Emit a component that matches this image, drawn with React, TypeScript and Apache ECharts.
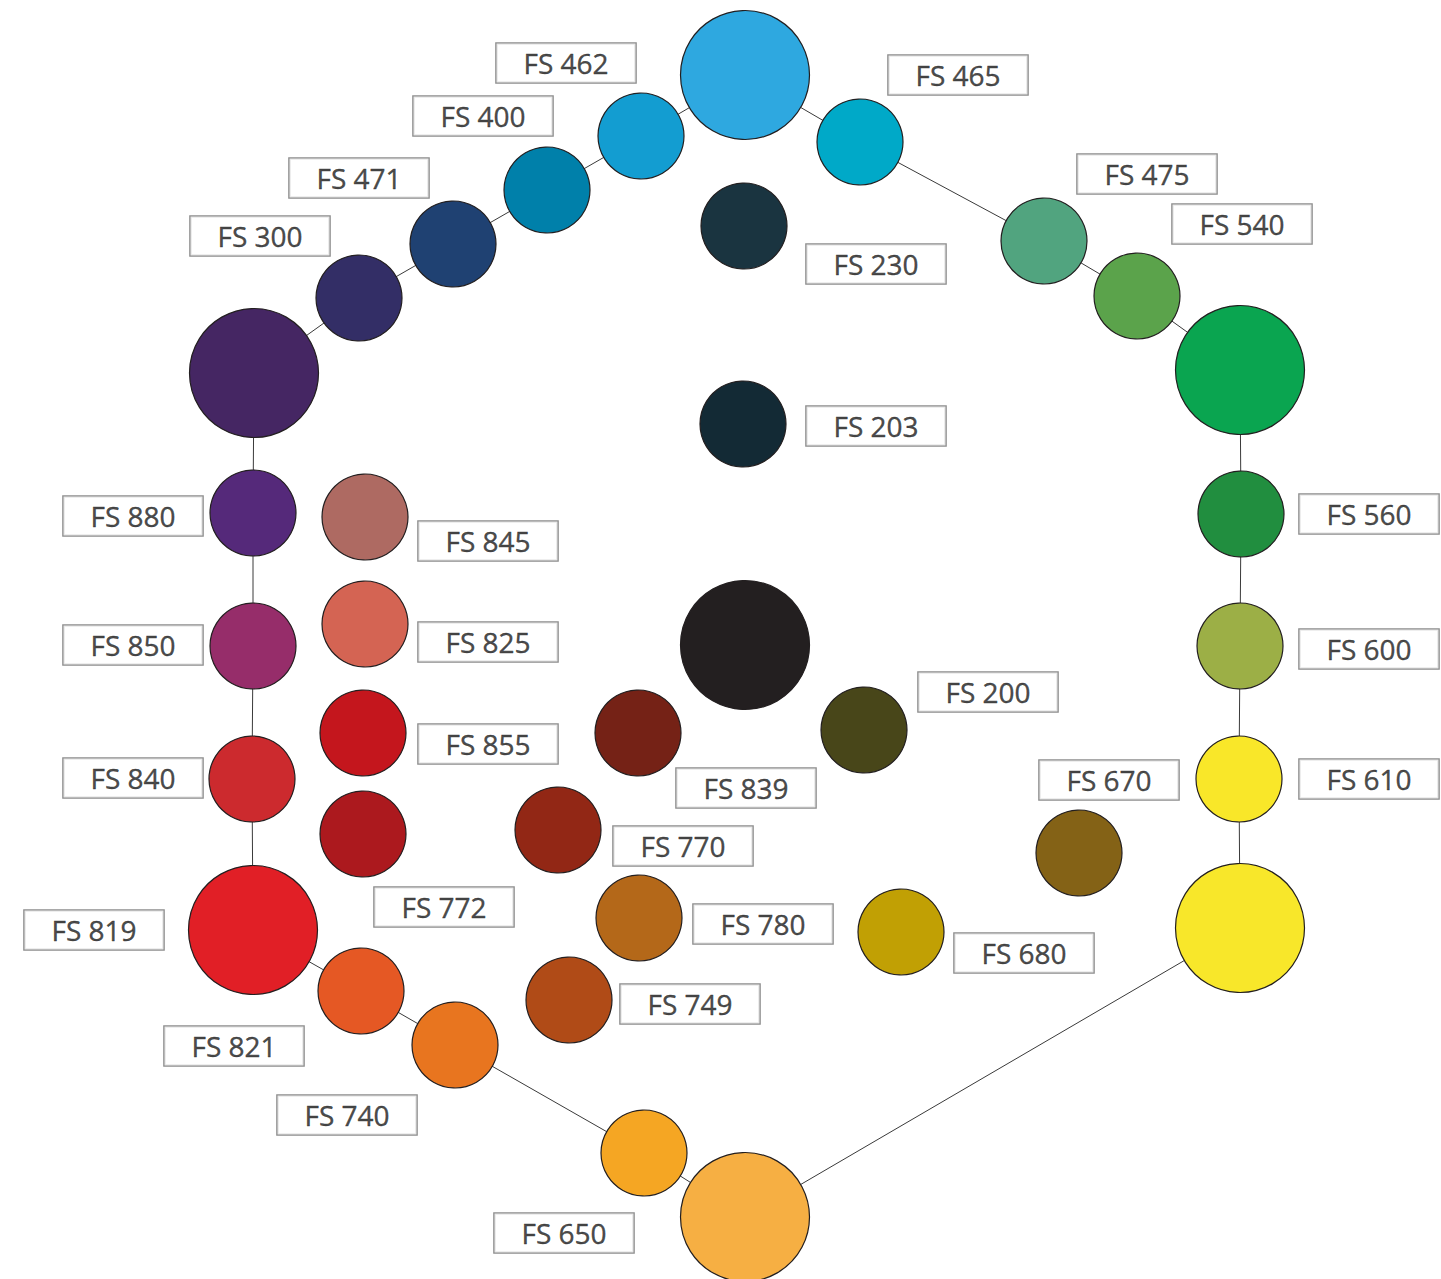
import React, { useEffect, useRef } from "react";
import * as echarts from "echarts";

// Circles (colour swatches): name, centre x, centre y, large flag, colour
const circleNames = [
  "top", "FS 465", "FS 475", "FS 540", "green", "FS 560", "FS 600", "FS 610", "yellow",
  "lightorange", "FS 650", "FS 740", "FS 821", "FS 819", "FS 840", "FS 850", "FS 880",
  "purple", "FS 300", "FS 471", "FS 400", "FS 462",
  "FS 230", "FS 203", "black", "FS 200", "FS 839", "FS 770", "FS 780", "FS 749",
  "FS 680", "FS 670", "FS 845", "FS 825", "FS 855", "FS 772",
];
const circleX = [
  745, 860, 1044, 1137, 1240, 1241, 1240, 1239, 1240,
  745, 644, 455, 361, 253, 252, 253, 253,
  254, 359, 453, 547, 641,
  744, 743, 745, 864, 638, 558, 639, 569,
  901, 1079, 365, 365, 363, 363,
];
const circleY = [
  75, 142, 241, 296, 370, 514, 646, 779, 928,
  1217, 1153, 1045, 991, 930, 779, 646, 513,
  373, 298, 244, 190, 136,
  226, 424, 645, 730, 733, 830, 918, 1000,
  932, 853, 517, 624, 733, 834,
];
const circleLarge = [
  1, 0, 0, 0, 1, 0, 0, 0, 1,
  1, 0, 0, 0, 1, 0, 0, 0,
  1, 0, 0, 0, 0,
  0, 0, 1, 0, 0, 0, 0, 0,
  0, 0, 0, 0, 0, 0,
];
const circleColors = [
  "#2ea8e0", "#00a9c8", "#51a47f", "#5ba34b", "#0aa550", "#218e3f", "#9caf46", "#f9e729", "#f8e72a",
  "#f6af43", "#f5a623", "#e8751f", "#e55824", "#e11f26", "#cc2a2e", "#962d6a", "#55297a",
  "#452663", "#332e66", "#1f4172", "#0080aa", "#139dd1",
  "#1a3440", "#132a35", "#231f20", "#484619", "#752216", "#922715", "#b46819", "#b04b17",
  "#c1a004", "#846216", "#ae6a62", "#d46453", "#c4161d", "#ac191e",
];
// ring order (indices into circle arrays), closed loop
const ringOrder = [0, 1, 2, 3, 4, 5, 6, 7, 8, 9, 10, 11, 12, 13, 14, 15, 16, 17, 18, 19, 20, 21, 0];

// Label boxes
const labelNames = [
  "FS 462", "FS 465", "FS 400", "FS 471", "FS 300", "FS 475", "FS 540", "FS 230", "FS 203",
  "FS 880", "FS 845", "FS 560", "FS 850", "FS 825", "FS 600", "FS 200", "FS 855", "FS 839",
  "FS 840", "FS 670", "FS 610", "FS 770", "FS 772", "FS 780", "FS 819", "FS 680", "FS 749",
  "FS 821", "FS 740", "FS 650",
];
const labelX = [
  566, 958, 483, 359, 260, 1147, 1242, 876, 876,
  133, 488, 1369, 133, 488, 1369, 988, 488, 746,
  133, 1109, 1369, 683, 444, 763, 94, 1024, 690,
  234, 347, 564,
];
const labelY = [
  63, 75, 116, 178, 236, 174, 224, 264, 426,
  516, 541, 514, 645, 642, 649, 692, 744, 788,
  778, 780, 779, 846, 907, 924, 930, 953, 1004,
  1046, 1115, 1233,
];

const W = 1441;
const H = 1279;

export default function App() {
  const ref = useRef<HTMLDivElement>(null);
  useEffect(() => {
    if (!ref.current) return;
    const chart = echarts.init(ref.current, undefined, { renderer: "svg" });
    const ringData = ringOrder.map((i) => [circleX[i], circleY[i]]);
    const circleData = circleNames.map((n, i) => ({
      name: n,
      value: [circleX[i], circleY[i], circleLarge[i]],
      itemStyle: { color: circleColors[i] },
    }));
    const labelData = labelNames.map((n, i) => ({ name: n, value: [labelX[i], labelY[i]] }));
    chart.setOption({
      animation: false,
      backgroundColor: "#ffffff",
      grid: { left: 0, right: 0, top: 0, bottom: 0 },
      xAxis: { type: "value", min: 0, max: W, show: false },
      yAxis: { type: "value", min: 0, max: H, inverse: true, show: false },
      series: [
        {
          type: "line",
          data: ringData,
          symbol: "none",
          silent: true,
          z: 1,
          lineStyle: { color: "#3a3a3a", width: 1 },
        },
        {
          type: "scatter",
          data: circleData,
          z: 2,
          symbolSize: (v: number[]) => (v[2] ? 129 : 86),
          itemStyle: { borderColor: "#231f20", borderWidth: 1.2, opacity: 1 },
        },
        {
          type: "scatter",
          data: labelData,
          z: 3,
          symbolSize: 0,
          label: {
            show: true,
            position: "inside",
            formatter: "{b}",
            fontFamily: "Open Sans",
            fontSize: 28,
            color: "#1a1a1a",
            textBorderColor: "#1a1a1a",
            textBorderWidth: 0.4,
            backgroundColor: "#ffffff",
            borderColor: "#6f6f6f",
            borderWidth: 1.3,
            width: 139,
            height: 36,
            lineHeight: 36,
            padding: [0, 0, 3, 0],
            align: "center",
            verticalAlign: "middle",
          },
        },
      ],
    });
    return () => chart.dispose();
  }, []);
  return (
    <div
      ref={ref}
      style={{ position: "absolute", left: 0, top: 0, width: W, height: H }}
    />
  );
}
